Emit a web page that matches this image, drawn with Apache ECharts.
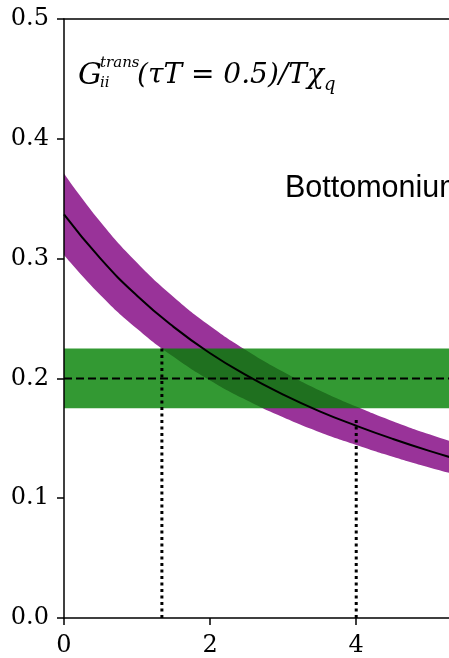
<!DOCTYPE html>
<html><head><meta charset="utf-8">
<script src="https://cdn.jsdelivr.net/npm/echarts@6/dist/echarts.min.js"></script>
<style>html,body{margin:0;padding:0;background:#fff}#c{width:449px;height:658px}</style>
</head><body><div id="c"></div>
<script>
// ---- data ----
const xs     = [0, 0.5, 1, 1.5, 2, 2.5, 3, 3.5, 4, 4.5, 5, 5.5];
const center = [0.337, 0.300, 0.269, 0.243, 0.221, 0.2025, 0.1865, 0.1725, 0.1605, 0.1495, 0.1395, 0.1305];
const upper  = [0.371, 0.3305, 0.2965, 0.268, 0.2438, 0.2233, 0.2055, 0.1899, 0.1765, 0.1643, 0.1533, 0.1435];
const lower  = [0.303, 0.2695, 0.2415, 0.218, 0.1982, 0.1817, 0.1675, 0.1551, 0.1445, 0.1347, 0.1257, 0.1175];
const greenLow = 0.175, greenHigh = 0.225, refLevel = 0.2;
const crossX   = [1.34, 4.0];
const crossTop = [0.225, 0.168];
const xRange = [0, 5.27];
const yTicks = [0, 0.1, 0.2, 0.3, 0.4, 0.5];
const xTicks = [0, 2, 4];
const formulaMain = '(τT = 0.5)/Tχ';
const label2 = 'Bottomonium';

// ---- build ----
const pts = arr => xs.map((x, i) => [x, arr[i]]);
const serif = '"DejaVu Serif", serif';
const chart = echarts.init(document.getElementById('c'), null, {renderer: 'canvas'});
const series = [
  // purple band: upper filled to axis, then lower filled white on top
  {type: 'line', data: pts(upper), smooth: true, symbol: 'none', lineStyle: {opacity: 0},
   areaStyle: {color: '#993399', opacity: 1}, silent: true, z: 1},
  {type: 'line', data: pts(lower), smooth: true, symbol: 'none', lineStyle: {opacity: 0},
   areaStyle: {color: '#ffffff', opacity: 1}, silent: true, z: 1},
  // green band
  {type: 'custom', data: [[greenLow, greenHigh]], z: 2, silent: true,
   renderItem: (params, api) => {
     const p0 = api.coord([xRange[0], api.value(1)]);
     const p1 = api.coord([xRange[1], api.value(0)]);
     return {type: 'rect', shape: {x: p0[0], y: p0[1], width: p1[0] - p0[0], height: p1[1] - p0[1]},
             style: {fill: '#008000', opacity: 0.8}};
   }},
  {type: 'line', data: pts(center), smooth: true, symbol: 'none', lineStyle: {color: '#000', width: 2}, z: 4},
  {type: 'line', data: [[xRange[0], refLevel], [xRange[1], refLevel]], symbol: 'none',
   lineStyle: {color: '#000', width: 2, type: [8, 4]}, z: 5}
];
crossX.forEach((cx, i) => series.push({type: 'line', data: [[cx, 0], [cx, crossTop[i]]], symbol: 'none',
  lineStyle: {color: '#000', width: 3, type: [3, 3.5]}, z: 5}));

chart.setOption({
  animation: false,
  grid: {left: 64, right: 0, top: 19, bottom: 38, containLabel: false},
  xAxis: [
    {type: 'value', min: xRange[0], max: xRange[1], interval: 2, splitLine: {show: false}, z: 10,
     axisLine: {lineStyle: {color: '#000', width: 1.5}},
     axisTick: {show: true, length: 7, lineStyle: {color: '#000', width: 1.5}},
     axisLabel: {showMaxLabel: false, margin: 16, color: '#000', fontFamily: serif, fontSize: 24,
       formatter: v => xTicks.includes(v) ? String(v) : ''}},
    {type: 'value', position: 'top', min: xRange[0], max: xRange[1], splitLine: {show: false}, z: 10,
     axisLine: {lineStyle: {color: '#000', width: 1.5}}, axisTick: {show: false}, axisLabel: {show: false}}
  ],
  yAxis: {type: 'value', min: yTicks[0], max: yTicks[yTicks.length - 1], interval: 0.1, splitLine: {show: false}, z: 10,
    axisLine: {show: true, lineStyle: {color: '#000', width: 1.5}},
    axisTick: {show: true, length: 7, lineStyle: {color: '#000', width: 1.5}},
    axisLabel: {margin: 15, color: '#000', fontFamily: serif, fontSize: 24, formatter: v => v.toFixed(1)}},
  series: series,
  graphic: [
    {type: 'text', z: 100, left: 78, top: 61, style: {text: 'G', font: 'italic 30px ' + serif, fill: '#000'}},
    {type: 'text', z: 100, left: 100, top: 56, style: {text: 'trans', font: 'italic 15px ' + serif, fill: '#000'}},
    {type: 'text', z: 100, left: 100, top: 76, style: {text: 'ii', font: 'italic 15px ' + serif, fill: '#000'}},
    {type: 'text', z: 100, left: 137, top: 62, style: {text: formulaMain, font: 'italic 28px ' + serif, fill: '#000'}},
    {type: 'text', z: 100, left: 324, top: 76, style: {text: 'q', font: 'italic 18px ' + serif, fill: '#000'}},
    {type: 'text', z: 100, left: 285, top: 173, style: {text: label2, font: '30.5px "Liberation Sans", Arial, sans-serif', fill: '#000'}}
  ]
});
</script></body></html>
